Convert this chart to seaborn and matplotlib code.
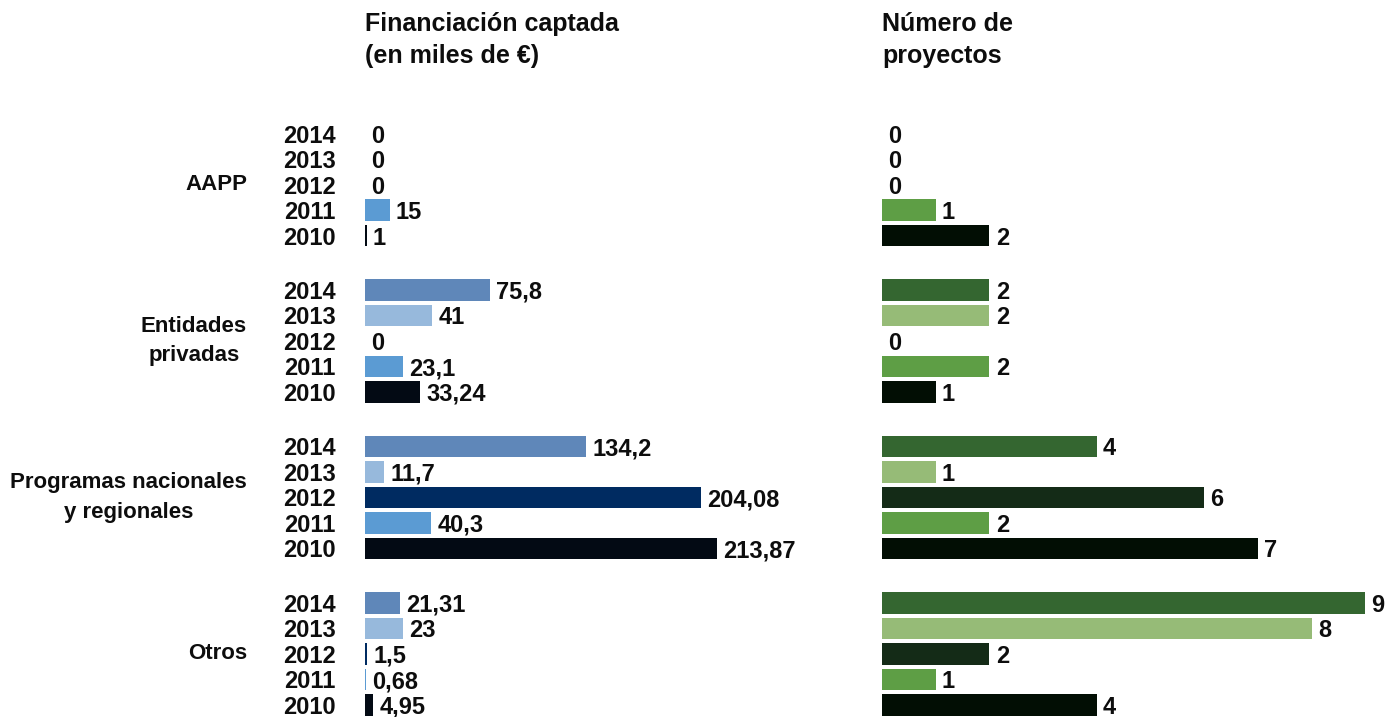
import matplotlib
matplotlib.use("Agg")
import matplotlib.pyplot as plt
import matplotlib.transforms as mtransforms
import numpy as np
import pandas as pd
import seaborn as sns

# ---- data -------------------------------------------------------------
groups = ["AAPP", "Entidades\nprivadas", "Programas nacionales\ny regionales", "Otros"]
years = ["2014", "2013", "2012", "2011", "2010"]

# Financiación captada (miles de €), one list per group, years 2014 -> 2010
fin_aapp = [0, 0, 0, 15, 1]
fin_privadas = [75.8, 41, 0, 23.1, 33.24]
fin_programas = [134.2, 11.7, 204.08, 40.3, 213.87]
fin_otros = [21.31, 23, 1.5, 0.68, 4.95]

# Número de proyectos, years 2014 -> 2010
proj_aapp = [0, 0, 0, 1, 2]
proj_privadas = [2, 2, 0, 2, 1]
proj_programas = [4, 1, 6, 2, 7]
proj_otros = [9, 8, 2, 1, 4]

blue_palette = {"2014": "#5f87b9", "2013": "#97b9dc", "2012": "#002b61",
                "2011": "#5b9bd3", "2010": "#030a14"}
green_palette = {"2014": "#346630", "2013": "#96bb77", "2012": "#142b17",
                 "2011": "#5e9e45", "2010": "#020e04"}

title_fin = "Financiación captada\n(en miles de €)"
title_proj = "Número de\nproyectos"

# ---- layout helpers ---------------------------------------------------
W, H = 1393, 717
GROUP_STEP = 6.137  # rows between the first bars of consecutive groups


def build_frame(series):
    rows = []
    for g, vals in enumerate(series):
        for r, (yr, v) in enumerate(zip(years, vals)):
            rows.append({"grupo": g, "anio": yr, "pos": g * GROUP_STEP + r, "valor": v})
    return pd.DataFrame(rows)


def fmt(v):
    return f"{v:g}".replace(".", ",")


df_fin = build_frame([fin_aapp, fin_privadas, fin_programas, fin_otros])
df_proj = build_frame([proj_aapp, proj_privadas, proj_programas, proj_otros])

sns.set_theme(style="white")
plt.rcParams["font.family"] = ["Liberation Sans", "DejaVu Sans"]
plt.rcParams["font.weight"] = "bold"

fig = plt.figure(figsize=(W / 100, H / 100), dpi=100)

top_px = 110
ax_h = (H - top_px) / H
y_top = (top_px - 133.5) / 25.5
y_bot = (H - 133.5) / 25.5

ax_fin = fig.add_axes([365 / W, 0, 485 / W, ax_h])
ax_proj = fig.add_axes([882 / W, 0, 508 / W, ax_h])

LABEL_FS = 17
INK = "#0d0d0d"

for ax, df, pal, xmax in [(ax_fin, df_fin, blue_palette, 485 / 1.646),
                          (ax_proj, df_proj, green_palette, 508 / 53.7)]:
    sns.barplot(data=df, x="valor", y="pos", hue="anio", hue_order=years,
                palette=pal, orient="h", native_scale=True, dodge=False,
                width=0.86, saturation=1, linewidth=0, errorbar=None,
                legend=False, ax=ax)
    ax.set_xlim(0, xmax)
    ax.set_ylim(y_bot, y_top)
    ax.set_xlabel("")
    ax.set_ylabel("")
    ax.set_xticks([])
    ax.set_yticks([])
    for s in ax.spines.values():
        s.set_visible(False)
    ax.patch.set_alpha(0)
    for _, row in df.iterrows():
        ax.annotate(fmt(row["valor"]), xy=(row["valor"], row["pos"]),
                    xytext=(4.5, 0), textcoords="offset points",
                    ha="left", va="center_baseline", fontsize=LABEL_FS,
                    fontweight="bold", color=INK)

# year labels and group names to the left of the financing panel
ax_fin.set_yticks(df_fin["pos"], df_fin["anio"])
ax_fin.tick_params(axis="y", length=0, pad=21, labelsize=LABEL_FS)
for t in ax_fin.get_yticklabels():
    t.set_fontweight("bold")
    t.set_color(INK)

blend = mtransforms.blended_transform_factory(fig.transFigure, ax_fin.transData)
for g, name in enumerate(groups):
    fig.text(247 / W, g * GROUP_STEP + 2, name, transform=blend,
             ha="right", va="center", multialignment="center",
             fontsize=16, fontweight="bold", color=INK,
             linespacing=1.55)

fig.text(365 / W, 1 - 12 / H, title_fin, ha="left", va="top",
         fontsize=18, fontweight="bold", color=INK, linespacing=1.4)
fig.text(882 / W, 1 - 12 / H, title_proj, ha="left", va="top",
         fontsize=18, fontweight="bold", color=INK, linespacing=1.4)

fig.savefig("out.png", dpi=100, facecolor="white")
